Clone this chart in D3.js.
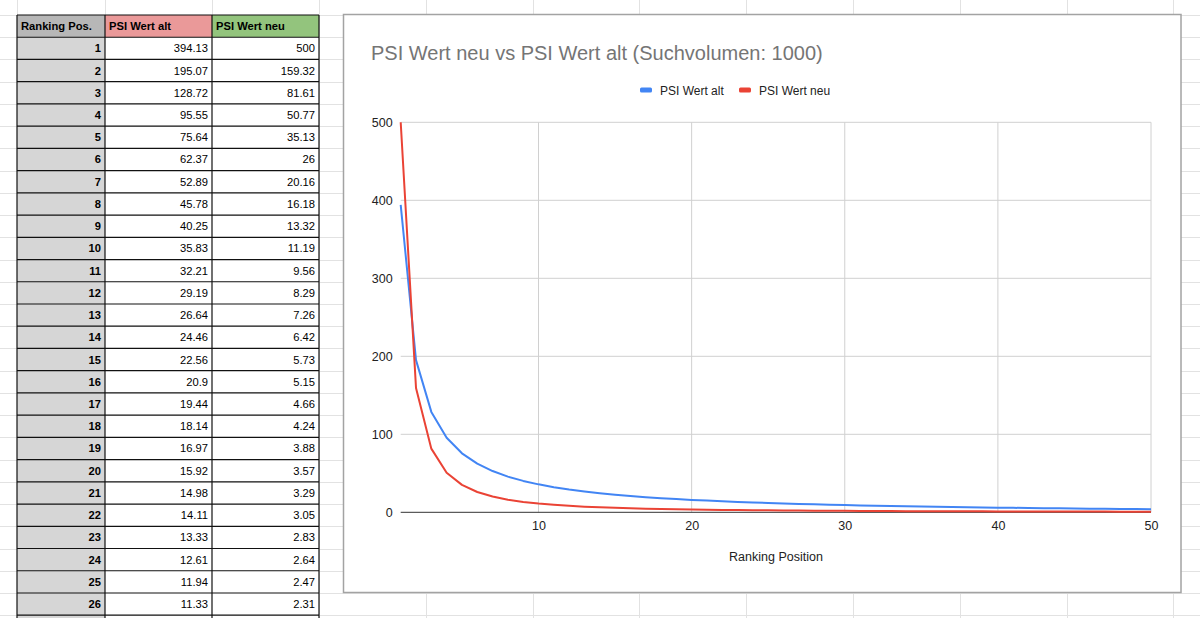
<!DOCTYPE html>
<html>
<head>
<meta charset="utf-8">
<script src="https://cdnjs.cloudflare.com/ajax/libs/d3/7.8.5/d3.min.js"></script>
<style>
  html, body { margin: 0; padding: 0; background: #fff; }
  svg { display: block; font-family: "Liberation Sans", Arial, sans-serif; }
</style>
</head>
<body>
<div id="sheet"></div>
<script>
// Data: ranking positions and the two PSI series
const positions = d3.range(1, 51);
const psiAlt = [394.13, 195.07, 128.72, 95.55, 75.64, 62.37, 52.89, 45.78, 40.25, 35.83,
  32.21, 29.19, 26.64, 24.46, 22.56, 20.9, 19.44, 18.14, 16.97, 15.92,
  14.98, 14.11, 13.33, 12.61, 11.94, 11.33, 10.76, 10.23, 9.74, 9.28,
  8.85, 8.45, 8.07, 7.72, 7.39, 7.07, 6.77, 6.49, 6.22, 5.96,
  5.72, 5.49, 5.27, 5.06, 4.86, 4.67, 4.48, 4.3, 4.13, 3.97];
const psiNeu = [500, 159.32, 81.61, 50.77, 35.13, 26, 20.16, 16.18, 13.32, 11.19,
  9.56, 8.29, 7.26, 6.42, 5.73, 5.15, 4.66, 4.24, 3.88, 3.57,
  3.29, 3.05, 2.83, 2.64, 2.47, 2.31, 2.17, 2.05, 1.93, 1.83,
  1.73, 1.64, 1.56, 1.49, 1.42, 1.35, 1.29, 1.24, 1.19, 1.14,
  1.09, 1.05, 1.01, 0.97, 0.94, 0.9, 0.87, 0.84, 0.81, 0.79];
const headers = ["Ranking Pos.", "PSI Wert alt", "PSI Wert neu"];
const seriesNames = ["PSI Wert alt", "PSI Wert neu"];
const yTicks = [0, 100, 200, 300, 400, 500];
const xTicks = [10, 20, 30, 40, 50];
const chartTitle = "PSI Wert neu vs PSI Wert alt (Suchvolumen: 1000)";
const xTitle = "Ranking Position";

const W = 1200, H = 618;
const svg = d3.select("#sheet").append("svg")
  .attr("width", W).attr("height", H);

// ---- spreadsheet grid ----
const rowTop = 15, rowH = 22.23;
const colEdges = [17, 105, 212, 319];
for (let x = 319 + 106.8; x < W; x += 106.8) colEdges.push(x);

const grid = svg.append("g").attr("stroke", "#e2e2e2").attr("stroke-width", 1);
d3.range(-1, 28).forEach(k => {
  const y = Math.round(rowTop + k * rowH) + 0.5;
  grid.append("line").attr("x1", 0).attr("x2", W).attr("y1", y).attr("y2", y);
});
colEdges.forEach(x => {
  const xx = Math.round(x) + 0.5;
  grid.append("line").attr("x1", xx).attr("x2", xx).attr("y1", 0).attr("y2", H);
});

// ---- table ----
const table = svg.append("g");
const colX = [17, 105, 212, 319];
const headFill = ["#b7b7b7", "#ea9999", "#93c47d"];
const fs = 11.2;

// header
headers.forEach((h, i) => {
  table.append("rect")
    .attr("x", colX[i]).attr("y", rowTop)
    .attr("width", colX[i + 1] - colX[i]).attr("height", rowH)
    .attr("fill", headFill[i]);
  table.append("text")
    .attr("x", colX[i] + 4).attr("y", rowTop + rowH / 2 + 4)
    .attr("font-size", fs).attr("font-weight", "bold").attr("fill", "#000")
    .text(h);
});

// body rows: 26 visible, the 27th only peeks in at the bottom edge
const nRows = 26;
d3.range(nRows + 1).forEach(r => {
  const y = rowTop + (r + 1) * rowH;
  table.append("rect")
    .attr("x", colX[0]).attr("y", y)
    .attr("width", colX[1] - colX[0]).attr("height", rowH)
    .attr("fill", "#d6d6d6");
  table.append("rect")
    .attr("x", colX[1]).attr("y", y)
    .attr("width", colX[3] - colX[1]).attr("height", rowH)
    .attr("fill", "#fff");
  if (r >= nRows) return;
  const vals = [positions[r], psiAlt[r], psiNeu[r]];
  vals.forEach((v, i) => {
    table.append("text")
      .attr("x", colX[i + 1] - 4).attr("y", y + rowH / 2 + 4)
      .attr("text-anchor", "end")
      .attr("font-size", fs)
      .attr("font-weight", i === 0 ? "bold" : "normal")
      .attr("fill", "#000")
      .text(String(v));
  });
});

// table borders
const tb = table.append("g").attr("stroke", "#111").attr("stroke-width", 1.2);
d3.range(0, nRows + 3).forEach(k => {
  const y = rowTop + k * rowH;
  tb.append("line").attr("x1", colX[0]).attr("x2", colX[3]).attr("y1", y).attr("y2", y);
});
colX.forEach(x => {
  tb.append("line").attr("x1", x).attr("x2", x).attr("y1", rowTop).attr("y2", H);
});

// ---- chart box ----
const box = { x: 343.5, y: 14.5, w: 837.5, h: 578 };
svg.append("rect")
  .attr("x", box.x).attr("y", box.y).attr("width", box.w).attr("height", box.h)
  .attr("fill", "#fff").attr("stroke", "#a3a3a3").attr("stroke-width", 1.5);

const chart = svg.append("g");

const x = d3.scaleLinear().domain([1, 50]).range([400.7, 1151]);
const y = d3.scaleLinear().domain([0, 500]).range([512.3, 122.3]);

// title
chart.append("text")
  .attr("x", 371).attr("y", 60)
  .attr("font-size", 20).attr("fill", "#757575")
  .text(chartTitle);

// gridlines
chart.append("g")
  .selectAll("line.hg").data(yTicks.filter(d => d > 0)).join("line")
  .attr("x1", x(1)).attr("x2", x(50))
  .attr("y1", d => y(d)).attr("y2", d => y(d))
  .attr("stroke", "#d0d0d0").attr("stroke-width", 1);
chart.append("g")
  .selectAll("line.vg").data(xTicks).join("line")
  .attr("x1", d => x(d)).attr("x2", d => x(d))
  .attr("y1", y(500)).attr("y2", y(0))
  .attr("stroke", "#d0d0d0").attr("stroke-width", 1);

// axes (labels only, Sheets style)
const yAxis = chart.append("g")
  .attr("transform", `translate(${x(1)},0)`)
  .call(d3.axisLeft(y).tickValues(yTicks).tickSize(0).tickPadding(8));
yAxis.select(".domain").remove();
yAxis.selectAll("text").attr("font-size", 12.5).attr("fill", "#222")
  .attr("font-family", "Liberation Sans, Arial, sans-serif");

const xAxis = chart.append("g")
  .attr("transform", `translate(0,${y(0)})`)
  .call(d3.axisBottom(x).tickValues(xTicks).tickSize(0).tickPadding(9));
xAxis.select(".domain").remove();
xAxis.selectAll("text").attr("font-size", 12.5).attr("fill", "#222")
  .attr("font-family", "Liberation Sans, Arial, sans-serif");

// zero baseline
chart.append("line")
  .attr("x1", x(1)).attr("x2", x(50))
  .attr("y1", y(0)).attr("y2", y(0))
  .attr("stroke", "#333").attr("stroke-width", 1);

// axis title
chart.append("text")
  .attr("x", 776).attr("y", 561)
  .attr("text-anchor", "middle")
  .attr("font-size", 12.5).attr("fill", "#222")
  .text(xTitle);

// lines
const colors = ["#4285f4", "#ea4335"];
const series = [psiAlt, psiNeu];
const line = d3.line()
  .x((d, i) => x(positions[i]))
  .y(d => y(d));
series.forEach((s, k) => {
  chart.append("path")
    .datum(s)
    .attr("d", line)
    .attr("fill", "none")
    .attr("stroke", colors[k])
    .attr("stroke-width", 2)
    .attr("stroke-linejoin", "round");
});

// legend
const legendX = [640, 739];
seriesNames.forEach((n, k) => {
  chart.append("rect")
    .attr("x", legendX[k]).attr("y", 87.5)
    .attr("width", 12).attr("height", 5).attr("rx", 1.5)
    .attr("fill", colors[k]);
  chart.append("text")
    .attr("x", legendX[k] + 20).attr("y", 94.5)
    .attr("font-size", 12).attr("fill", "#222")
    .text(n);
});
</script>
</body>
</html>
